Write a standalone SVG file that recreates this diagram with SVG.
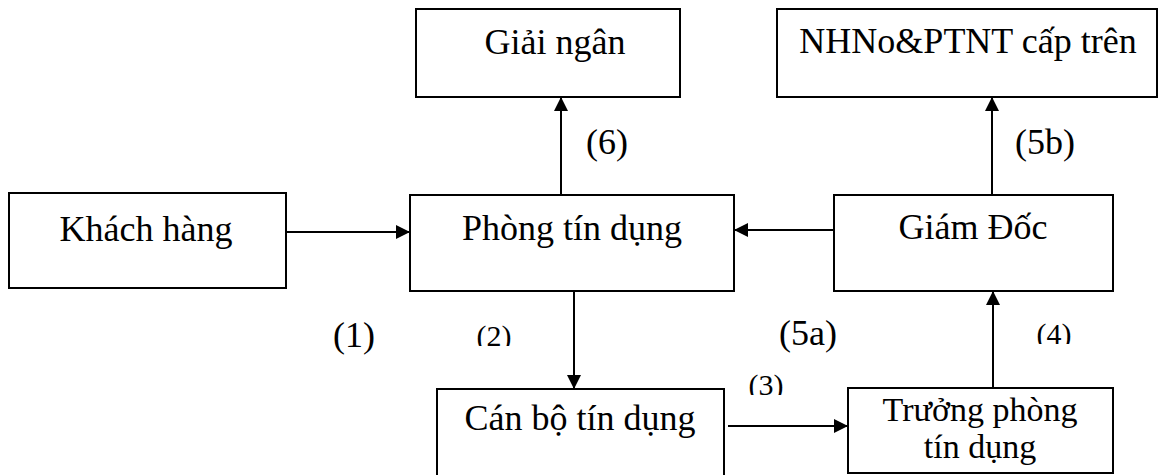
<svg xmlns="http://www.w3.org/2000/svg" width="1159" height="475" viewBox="0 0 1159 475">
<style>
.box{fill:#fff;stroke:#000;stroke-width:2}
text{font-family:'Times New Roman','Liberation Serif','DejaVu Serif',serif;fill:#000;text-anchor:middle}
.t{font-size:36px}
.s{font-size:30px}
.c{stroke:#000;stroke-width:2;fill:none;marker-end:url(#ah)}
</style>
<defs>
<marker id="ah" viewBox="0 0 14 14" refX="14" refY="7" markerWidth="14" markerHeight="14" markerUnits="userSpaceOnUse" orient="auto">
<path d="M0,0 L14,7 L0,14 Z" fill="#000"/>
</marker>
<clipPath id="c2"><rect x="460" y="300" width="70" height="46"/></clipPath>
<clipPath id="c3"><rect x="735" y="355" width="70" height="40"/></clipPath>
<clipPath id="c4"><rect x="1025" y="300" width="70" height="44"/></clipPath>
</defs>
<g id="connectors">
<line class="c" x1="561" y1="195" x2="561" y2="97"/>
<line class="c" x1="992" y1="195" x2="992" y2="97"/>
<line class="c" x1="286" y1="232" x2="410" y2="232"/>
<line class="c" x1="834" y1="230" x2="734" y2="230"/>
<line class="c" x1="574" y1="291" x2="574" y2="389"/>
<line class="c" x1="728" y1="426" x2="848" y2="426"/>
<line class="c" x1="993" y1="388" x2="993" y2="291"/>
</g>
<g id="labels">
<text class="t" x="607" y="154" font-family="Liberation Serif, serif">(6)</text>
<text class="t" x="1045" y="154" font-family="Liberation Serif, serif">(5b)</text>
<text class="t" x="354" y="347" font-family="Liberation Serif, serif">(1)</text>
<text class="t" x="808" y="345" font-family="Liberation Serif, serif">(5a)</text>
<text class="s" x="494" y="346" clip-path="url(#c2)">(2)</text>
<text class="s" x="766" y="395" clip-path="url(#c3)">(3)</text>
<text class="s" x="1054" y="344" clip-path="url(#c4)">(4)</text>
</g>
<g id="giai-ngan">
<rect class="box" x="416" y="9" width="264" height="88"/>
<text class="t" x="555" y="54">Giải ngân</text>
</g>
<g id="nhno">
<rect class="box" x="777" y="9" width="380" height="88"/>
<text class="t" x="968" y="53">NHNo&amp;PTNT cấp trên</text>
</g>
<g id="khach-hang">
<rect class="box" x="9" y="193" width="277" height="95"/>
<text class="t" x="146" y="241">Khách hàng</text>
</g>
<g id="phong-tin-dung">
<rect class="box" x="410" y="195" width="324" height="96"/>
<text class="t" x="572" y="240">Phòng tín dụng</text>
</g>
<g id="giam-doc">
<rect class="box" x="834" y="195" width="279" height="96"/>
<text class="t" x="973" y="239">Giám Đốc</text>
</g>
<g id="can-bo">
<rect class="box" x="437" y="389" width="287" height="100"/>
<text class="t" x="580" y="430">Cán bộ tín dụng</text>
</g>
<g id="truong-phong">
<rect class="box" x="848" y="388" width="265" height="85"/>
<text x="980" y="421" font-size="34">Trưởng phòng</text>
<text x="980" y="458" font-size="34">tín dụng</text>
</g>
</svg>
